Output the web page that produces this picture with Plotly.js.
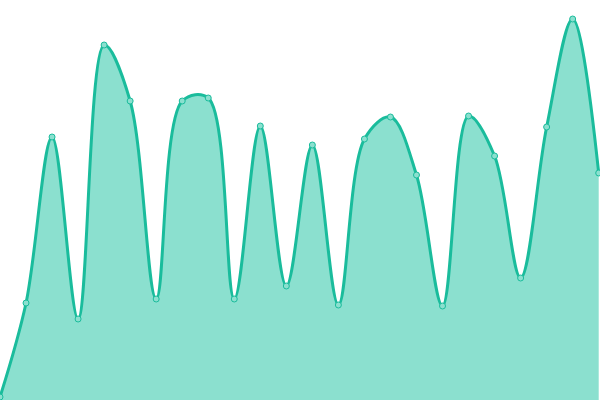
<!DOCTYPE html>
<html>
<head>
<meta charset="utf-8">
<script src="https://cdn.plot.ly/plotly-3.0.1.min.js"></script>
<style>
  html, body { margin: 0; padding: 0; background: #fff; }
  #chart { width: 600px; height: 400px; }
</style>
</head>
<body>
<div id="chart"></div>
<script>
// Series (no axes shown)
const steps = [0, 1, 2, 3, 4, 5, 6, 7, 8, 9, 10, 11, 12, 13, 14, 15, 16, 17, 18, 19, 20, 21, 22, 23];
const values = [3, 97, 263, 81, 355, 299, 101, 299, 302, 101, 274, 114,
                255, 95, 261, 283, 225, 94, 284, 244, 122, 273, 381, 227];

const lineColor = '#1abc9c';

const trace = {
    x: steps,
    y: values,
    type: 'scatter',
    mode: 'lines+markers',
    line: { color: lineColor, width: 3, shape: 'spline' },
    marker: { size: 6, color: '#8be0cf', line: { color: lineColor, width: 1 } },
    fill: 'tozeroy',
    fillcolor: '#8be0cf',
    hoverinfo: 'skip'
};

const layout = {
    width: 600,
    height: 400,
    margin: { t: 0, r: 0, b: 0, l: 0 },
    showlegend: false,
    paper_bgcolor: '#ffffff',
    plot_bgcolor: '#ffffff',
    xaxis: { range: [0, 23.05], visible: false, fixedrange: true },
    yaxis: { range: [0, 400], visible: false, fixedrange: true }
};

Plotly.newPlot('chart', [trace], layout, { displayModeBar: false, staticPlot: true });
</script>
</body>
</html>
